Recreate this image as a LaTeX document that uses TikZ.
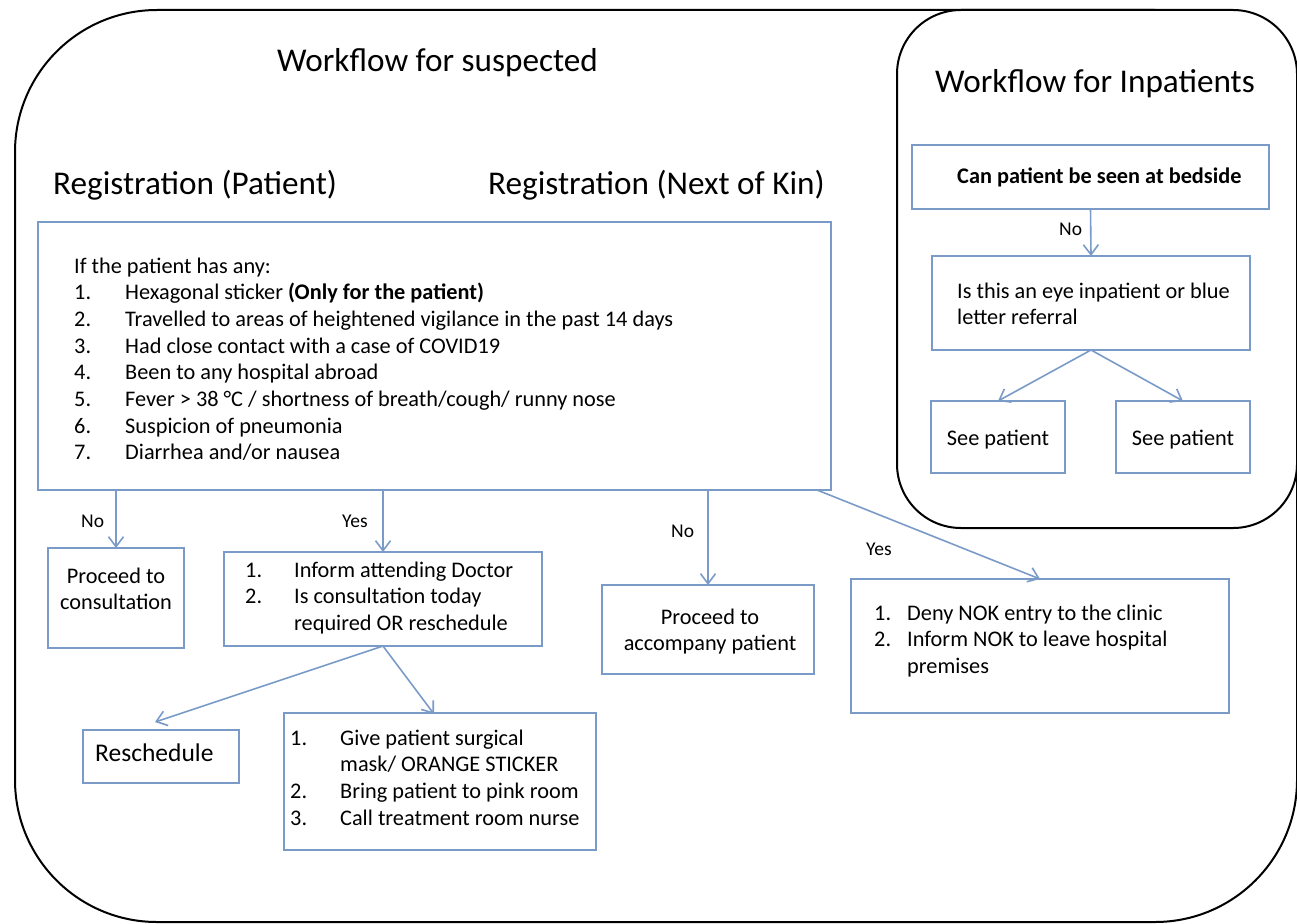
\documentclass[tikz,border=0pt]{standalone}
\usepackage{fontspec}
\setmainfont{Carlito}
\usetikzlibrary{arrows.meta,calc}
\definecolor{bl}{RGB}{122,155,200}
\begin{document}
\begin{tikzpicture}[x=1pt,y=-1pt,
  outer/.style={draw=black,line width=2pt},
  box/.style={draw=bl,line width=1.6pt,inner sep=0pt,outer sep=0pt,fill=white},
  arr/.style={draw=bl,line width=1.6pt,-{Straight Barb[length=10pt,width=15pt,line width=1.6pt]}},
  txt/.style={inner sep=0pt,anchor=base west,font=\fontsize{22.3}{26.7}\selectfont},
  ctxt/.style={inner sep=0pt,anchor=base,font=\fontsize{22.3}{26.7}\selectfont},
  lbl/.style={inner sep=0pt,anchor=base west,font=\fontsize{19.5}{23}\selectfont},
  ttl/.style={inner sep=0pt,anchor=base west,font=\fontsize{33.2}{40}\selectfont}]
\useasboundingbox (0,0) rectangle (1297,923);
\fill[white] (0,0) rectangle (1297,923);
% outer frames
\draw[outer,rounded corners=142] (15,10) rectangle (1297,922);
\draw[outer,fill=white,rounded corners=64] (897,10) rectangle (1297,528);
% titles
\node[ttl] (t1) at (277,72) {Workflow for suspected};
\node[ttl] (t2) at (53,194) {Registration (Patient)};
\node[ttl] (t3) at (488,194) {Registration (Next of Kin)};
\node[ttl] (t4) at (935,93) {Workflow for Inpatients};
% boxes
\node[box,minimum width=793pt,minimum height=268pt] (main) at (434.5,356) {};
\node[box,minimum width=357pt,minimum height=64pt] (bed) at (1090.5,177) {};
\node[box,minimum width=318pt,minimum height=94pt] (eye) at (1091,303) {};
\node[box,minimum width=134pt,minimum height=72pt] (see1) at (998,437) {};
\node[box,minimum width=134pt,minimum height=72pt] (see2) at (1183,437) {};
\node[box,minimum width=136pt,minimum height=100pt] (cons) at (116,598) {};
\node[box,minimum width=318pt,minimum height=94pt] (inform) at (383,599) {};
\node[box,minimum width=156pt,minimum height=53pt] (resch) at (161,756.5) {};
\node[box,minimum width=312pt,minimum height=137pt] (give) at (440,781.5) {};
\node[box,minimum width=212pt,minimum height=89pt] (accomp) at (708,629.5) {};
\node[box,minimum width=378pt,minimum height=134pt] (deny) at (1040,646) {};
% box texts
\node[txt] (mainT) at (74,273) {\begin{tabular}[t]{@{}p{51pt}@{}l@{}}
\multicolumn{2}{@{}l@{}}{If the patient has any:}\\
1.&Hexagonal sticker \textbf{(Only for the patient)}\\
2.&Travelled to areas of heightened vigilance in the past 14 days\\
3.&Had close contact with a case of COVID19\\
4.&Been to any hospital abroad\\
5.&Fever > 38 °C / shortness of breath/cough/ runny nose\\
6.&Suspicion of pneumonia\\
7.&Diarrhea and/or nausea
\end{tabular}};
\node[txt,font=\bfseries\fontsize{22.3}{26.7}\selectfont] (bedT) at (957,183) {Can patient be seen at bedside};
\node[txt] (eyeT) at (957,298) {\begin{tabular}[t]{@{}l@{}}Is this an eye inpatient or blue\\letter referral\end{tabular}};
\node[ctxt] (see1T) at (998,445) {See patient};
\node[ctxt] (see2T) at (1183,445) {See patient};
\node[ctxt] (consT) at (116,583) {\begin{tabular}[t]{@{}c@{}}Proceed to\\consultation\end{tabular}};
\node[txt] (informT) at (245,577) {\begin{tabular}[t]{@{}p{49pt}@{}l@{}}
1.&Inform attending Doctor\\
2.&Is consultation today\\
&required OR reschedule
\end{tabular}};
\node[txt,font=\fontsize{25.5}{30}\selectfont] (reschT) at (95,761) {Reschedule};
\node[txt] (giveT) at (290,745) {\begin{tabular}[t]{@{}p{50pt}@{}l@{}}
1.&Give patient surgical\\
&mask/ ORANGE STICKER\\
2.&Bring patient to pink room\\
3.&Call treatment room nurse
\end{tabular}};
\node[ctxt] (accompT) at (710,624) {\begin{tabular}[t]{@{}c@{}}Proceed to\\accompany patient\end{tabular}};
\node[txt] (denyT) at (874,620) {\begin{tabular}[t]{@{}p{33pt}@{}l@{}}
1.&Deny NOK entry to the clinic\\
2.&Inform NOK to leave hospital\\
&premises
\end{tabular}};
% connector labels
\node[lbl] (l1) at (81,527) {No};
\node[lbl] (l2) at (342,527) {Yes};
\node[lbl] (l3) at (671,537) {No};
\node[lbl] (l4) at (866,555) {Yes};
\node[lbl] (l5) at (1059,235) {No};
% connectors
\coordinate (mY) at ($(main.south east)+(-14,0)$);
\draw[arr] (main.south -| cons.north) -- (cons.north);
\draw[arr] (main.south -| inform.north) -- (inform.north);
\draw[arr] (main.south -| accomp.north) -- (accomp.north);
\draw[arr] (mY) -- (deny.north);
\draw[arr] (inform.south) -- ($(resch.north)+(-6,-8)$);
\draw[arr] (inform.south) -- ($(give.north)+(-6,1)$);
\draw[arr] (bed.south) -- (eye.north);
\draw[arr] (eye.south) -- (see1.north);
\draw[arr] (eye.south) -- (see2.north);
\end{tikzpicture}
\end{document}
